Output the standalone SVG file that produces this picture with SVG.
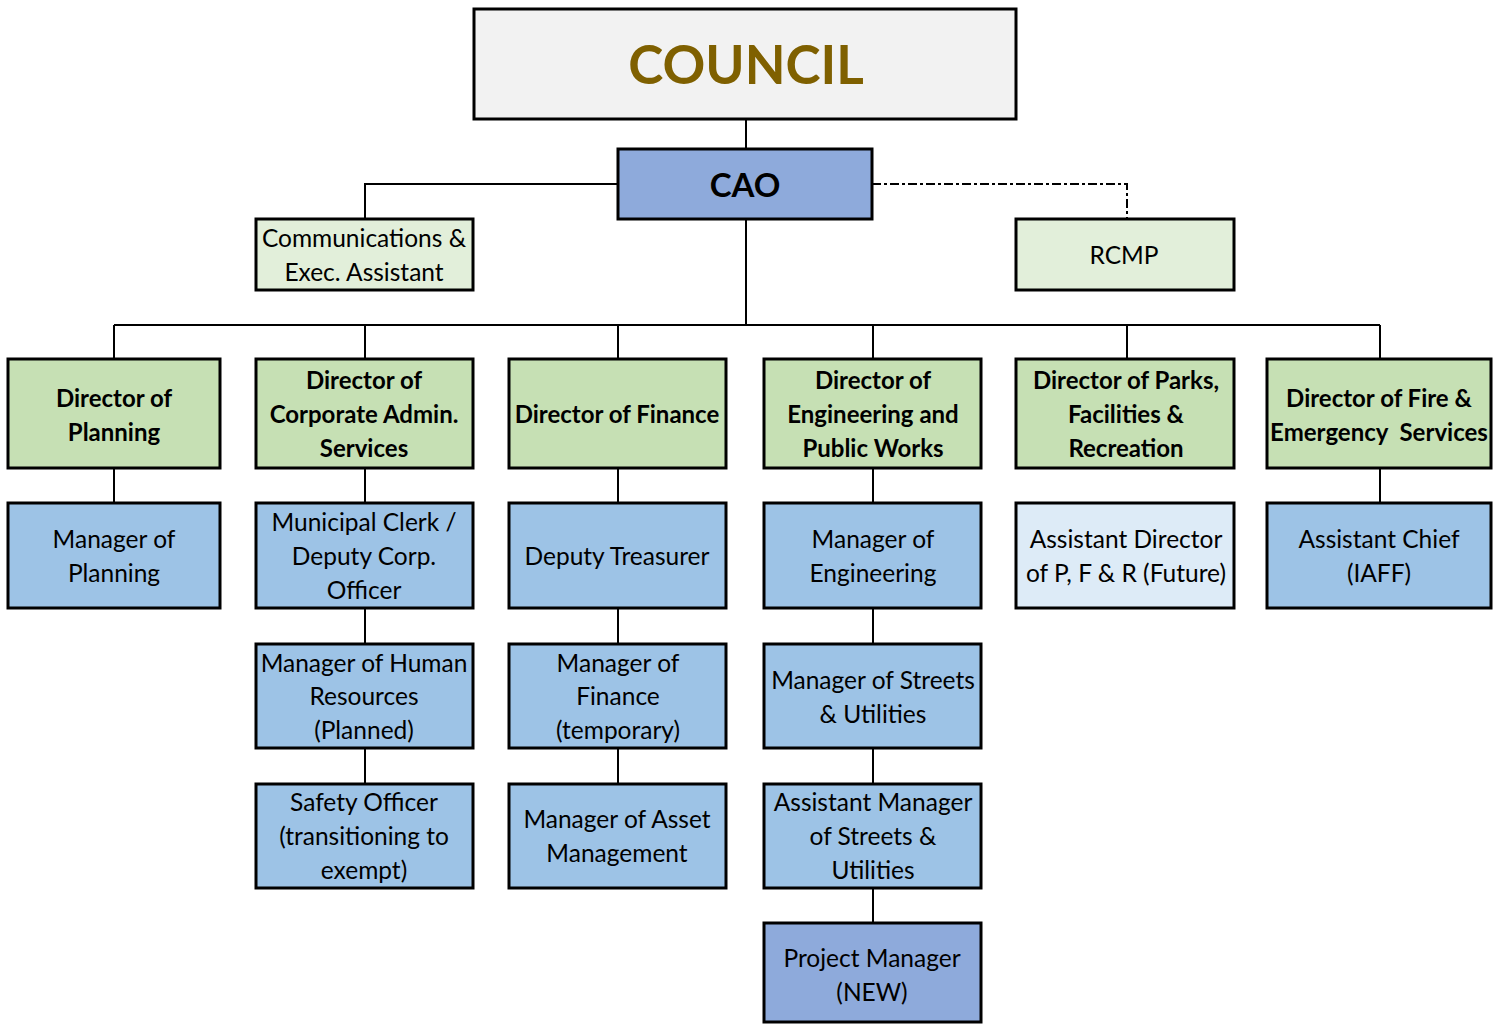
<svg xmlns="http://www.w3.org/2000/svg" width="1497" height="1024" viewBox="0 0 1497 1024">
<style>
.box{stroke:#000;stroke-width:3}
.council{fill:#f2f2f2}
.cao{fill:#8eaadb}
.lg{fill:#e2efda}
.dir{fill:#c6e0b4}
.mgr{fill:#9dc3e6}
.fut{fill:#ddebf7}
.new{fill:#8eaadb}
text{font-family:Lato,"Open Sans","Liberation Sans",sans-serif;text-anchor:middle;fill:#000}
.t{font-size:24.5px}
.b{font-size:24px;font-weight:bold}
.conn line,.conn path{stroke:#000;stroke-width:2;fill:none}
.dash{stroke-dasharray:9 3 3 3}
</style>
<rect width="1497" height="1024" fill="#fff"/>
<g class="conn">
<line x1="746" y1="119" x2="746" y2="149"/>
<path d="M618 184 H365 V219"/>
<path class="dash" d="M872 184 H1127 V219"/>
<line x1="746" y1="219" x2="746" y2="325"/>
<line x1="114" y1="325" x2="1380" y2="325"/>
<line x1="114" y1="325" x2="114" y2="359"/>
<line x1="365" y1="325" x2="365" y2="359"/>
<line x1="618" y1="325" x2="618" y2="359"/>
<line x1="873" y1="325" x2="873" y2="359"/>
<line x1="1127" y1="325" x2="1127" y2="359"/>
<line x1="1380" y1="325" x2="1380" y2="359"/>
<line x1="114" y1="468" x2="114" y2="503"/>
<line x1="365" y1="468" x2="365" y2="503"/>
<line x1="618" y1="468" x2="618" y2="503"/>
<line x1="873" y1="468" x2="873" y2="503"/>
<line x1="1380" y1="468" x2="1380" y2="503"/>
<line x1="365" y1="608" x2="365" y2="644"/>
<line x1="618" y1="608" x2="618" y2="644"/>
<line x1="873" y1="608" x2="873" y2="644"/>
<line x1="365" y1="748" x2="365" y2="784"/>
<line x1="618" y1="748" x2="618" y2="784"/>
<line x1="873" y1="748" x2="873" y2="784"/>
<line x1="873" y1="888" x2="873" y2="923"/>
</g>
<g id="council"><rect class="box council" x="474" y="9" width="542" height="110"/><text x="746" y="84" style="font-size:53px;font-weight:bold;fill:#7f6000">COUNCIL</text></g>
<g id="cao"><rect class="box cao" x="618" y="149" width="254" height="70"/><text x="745" y="197" style="font-size:33px;font-weight:bold">CAO</text></g>
<g id="comm"><rect class="box lg" x="256" y="219" width="217" height="71"/><text class="t" x="364" y="247">Communications &amp;</text><text class="t" x="364" y="281">Exec. Assistant</text></g>
<g id="rcmp"><rect class="box lg" x="1016" y="219" width="218" height="71"/><text class="t" x="1124" y="264">RCMP</text></g>
<g id="dir-planning"><rect class="box dir" x="8" y="359" width="212" height="109"/><text class="b" x="114" y="407">Director of</text><text class="b" x="114" y="441">Planning</text></g>
<g id="dir-corp"><rect class="box dir" x="256" y="359" width="217" height="109"/><text class="b" x="364" y="389">Director of</text><text class="b" x="364" y="423">Corporate Admin.</text><text class="b" x="364" y="457">Services</text></g>
<g id="dir-fin"><rect class="box dir" x="509" y="359" width="217" height="109"/><text class="b" x="617" y="423">Director of Finance</text></g>
<g id="dir-eng"><rect class="box dir" x="764" y="359" width="217" height="109"/><text class="b" x="873" y="389">Director of</text><text class="b" x="873" y="423">Engineering and</text><text class="b" x="873" y="457">Public Works</text></g>
<g id="dir-parks"><rect class="box dir" x="1016" y="359" width="218" height="109"/><text class="b" x="1126" y="389">Director of Parks,</text><text class="b" x="1126" y="423">Facilities &amp;</text><text class="b" x="1126" y="457">Recreation</text></g>
<g id="dir-fire"><rect class="box dir" x="1267" y="359" width="224" height="109"/><text class="b" x="1379" y="407">Director of Fire &amp;</text><text class="b" x="1379" y="441" xml:space="preserve">Emergency  Services</text></g>
<g id="mgr-planning"><rect class="box mgr" x="8" y="503" width="212" height="105"/><text class="t" x="114" y="548">Manager of</text><text class="t" x="114" y="582">Planning</text></g>
<g id="clerk"><rect class="box mgr" x="256" y="503" width="217" height="105"/><text class="t" x="364" y="531">Municipal Clerk /</text><text class="t" x="364" y="565">Deputy Corp.</text><text class="t" x="364" y="599">Officer</text></g>
<g id="deputy-treasurer"><rect class="box mgr" x="509" y="503" width="217" height="105"/><text class="t" x="617" y="565">Deputy Treasurer</text></g>
<g id="mgr-eng"><rect class="box mgr" x="764" y="503" width="217" height="105"/><text class="t" x="873" y="548">Manager of</text><text class="t" x="873" y="582">Engineering</text></g>
<g id="asst-dir-pfr"><rect class="box fut" x="1016" y="503" width="218" height="105"/><text class="t" x="1126" y="548">Assistant Director</text><text class="t" x="1126" y="582">of P, F &amp; R (Future)</text></g>
<g id="asst-chief"><rect class="box mgr" x="1267" y="503" width="224" height="105"/><text class="t" x="1379" y="548">Assistant Chief</text><text class="t" x="1379" y="582">(IAFF)</text></g>
<g id="mgr-hr"><rect class="box mgr" x="256" y="644" width="217" height="104"/><text class="t" x="364" y="672">Manager of Human</text><text class="t" x="364" y="705">Resources</text><text class="t" x="364" y="739">(Planned)</text></g>
<g id="mgr-fin"><rect class="box mgr" x="509" y="644" width="217" height="104"/><text class="t" x="618" y="672">Manager of</text><text class="t" x="618" y="705">Finance</text><text class="t" x="618" y="739">(temporary)</text></g>
<g id="mgr-streets"><rect class="box mgr" x="764" y="644" width="217" height="104"/><text class="t" x="873" y="689">Manager of Streets</text><text class="t" x="873" y="723">&amp; Utilities</text></g>
<g id="safety"><rect class="box mgr" x="256" y="784" width="217" height="104"/><text class="t" x="364" y="811">Safety Officer</text><text class="t" x="364" y="845">(transitioning to</text><text class="t" x="364" y="879">exempt)</text></g>
<g id="mgr-asset"><rect class="box mgr" x="509" y="784" width="217" height="104"/><text class="t" x="617" y="828">Manager of Asset</text><text class="t" x="617" y="862">Management</text></g>
<g id="asst-mgr-streets"><rect class="box mgr" x="764" y="784" width="217" height="104"/><text class="t" x="873" y="811">Assistant Manager</text><text class="t" x="873" y="845">of Streets &amp;</text><text class="t" x="873" y="879">Utilities</text></g>
<g id="project-mgr"><rect class="box new" x="764" y="923" width="217" height="99"/><text class="t" x="872" y="967">Project Manager</text><text class="t" x="872" y="1001">(NEW)</text></g>
</svg>
